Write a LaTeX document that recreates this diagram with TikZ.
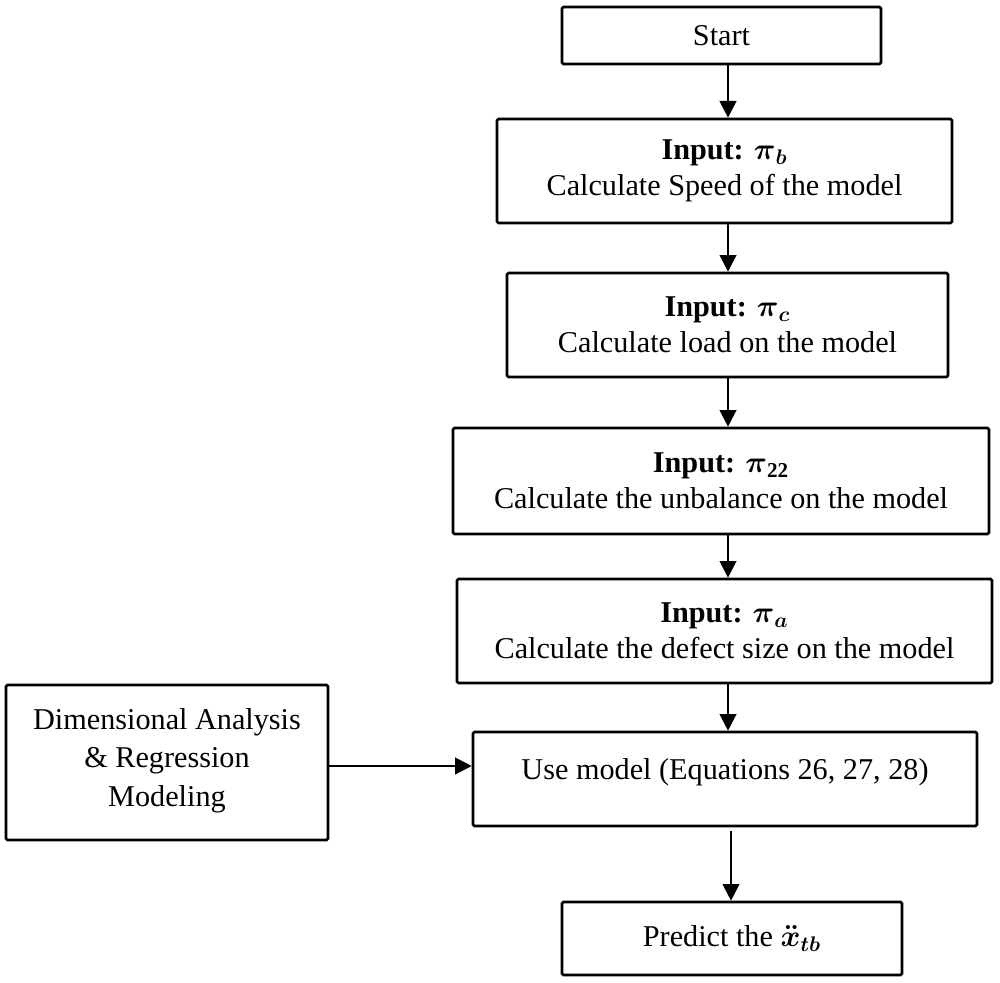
\documentclass[tikz,border=0pt]{standalone}
\usepackage{fix-cm}
\usepackage{amsmath,amssymb}
\usepackage{fontspec}
\setmainfont{Liberation Serif}
\usetikzlibrary{arrows.meta}
\begin{document}
\begin{tikzpicture}[x=0.02cm,y=-0.02cm,
  box/.style={draw,line width=1.5pt,rectangle,rounded corners=0.8pt,inner sep=0pt,align=center,
    font=\fontsize{17.2}{20.5}\selectfont},
  arr/.style={line width=1.2pt,-{Triangle[width=9.5pt,length=9.5pt]}}]
\useasboundingbox (0,0) rectangle (1000,983);
\node[box,minimum width=6.38cm,minimum height=1.14cm] (start) at (721.5,35.5) {Start};
\node[box,minimum width=9.10cm,minimum height=2.08cm] (pib) at (724.5,171)
  {\textbf{Input:} $\boldsymbol{\pi}_{\boldsymbol{b}}$\\Calculate Speed of the model};
\node[box,minimum width=8.82cm,minimum height=2.08cm] (pic) at (727.5,325)
  {\textbf{Input:} $\boldsymbol{\pi}_{\boldsymbol{c}}$\\Calculate load on the model};
\node[box,minimum width=10.72cm,minimum height=2.12cm] (pitt) at (721,481)
  {\textbf{Input:} $\boldsymbol{\pi}_{\mathbf{22}}$\\Calculate the unbalance on the model};
\node[box,minimum width=10.70cm,minimum height=2.08cm] (pia) at (724.5,631)
  {\textbf{Input:} $\boldsymbol{\pi}_{\boldsymbol{a}}$\\Calculate the defect size on the model};
\node[box,minimum width=10.08cm,minimum height=1.88cm] (use) at (725,779)
  {Use model (Equations 26, 27, 28)\rule[-0.4cm]{0pt}{0pt}};
\node[box,minimum width=6.80cm,minimum height=1.46cm] (pred) at (732,938.5)
  {Predict the $\boldsymbol{\ddot{x}}_{\boldsymbol{tb}}$};
\node[box,minimum width=6.44cm,minimum height=3.10cm] (dim) at (167,762.5)
  {Dimensional Analysis\\[1.5pt] \& Regression\\[1.5pt] Modeling\rule[-0.2cm]{0pt}{0pt}};
\coordinate (ax) at (728,0);
\coordinate (bx) at (731,0);
\coordinate (ay) at (0,766);
\draw[arr] (start.south -| ax) -- (pib.north -| ax);
\draw[arr] (pib.south -| ax) -- (pic.north -| ax);
\draw[arr] (pic.south -| ax) -- (pitt.north -| ax);
\draw[arr] (pitt.south -| ax) -- (pia.north -| ax);
\draw[arr] (pia.south -| ax) -- (use.north -| ax);
\draw[arr,shorten <=0.08cm] (use.south -| bx) -- (pred.north -| bx);
\draw[arr] (dim.east |- ay) -- (use.west |- ay);
\end{tikzpicture}
\end{document}
